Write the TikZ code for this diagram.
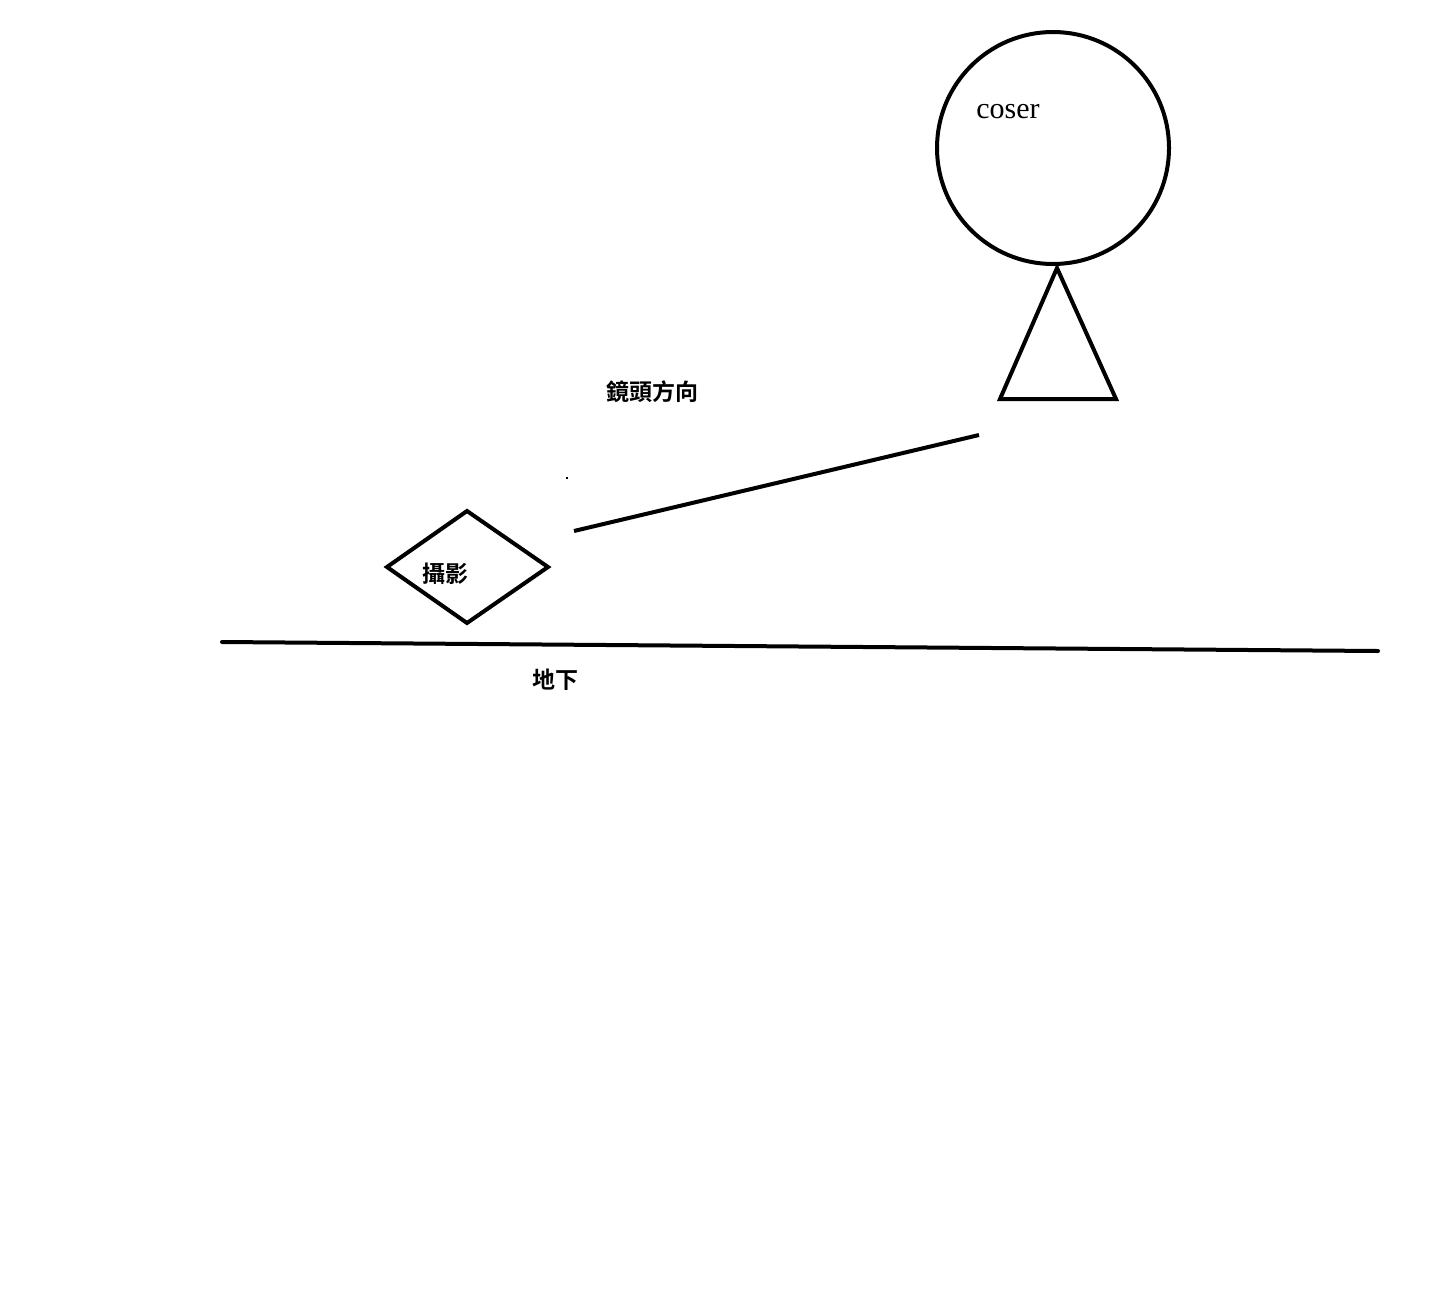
\documentclass[tikz,border=0pt]{standalone}
\usepackage{fontspec}
\setmainfont{Liberation Serif}
\newfontfamily\cjk{Noto Sans CJK TC}[BoldFont={* Bold}]
\begin{document}
\begin{tikzpicture}[x=1pt,y=-1pt,
  stroke/.style={draw=black,line width=4pt,line join=miter},
  cjklabel/.style={font=\cjk\bfseries\fontsize{23}{26}\selectfont,inner sep=0pt},
  latlabel/.style={font=\fontsize{30}{33}\selectfont,inner sep=0pt}]
\useasboundingbox[fill=white] (0,0) rectangle (1440,1288);
% coser: head and body
\node[stroke,circle,minimum size=232pt,inner sep=0pt] (head) at (1053,148) {};
\coordinate (apex) at (1057,268);
\coordinate (bl) at (1000,399);
\coordinate (br) at (1116,399);
\draw[stroke] (apex) -- (bl) -- (br) -- cycle;
\node[latlabel] (coser) at (1008,112) {coser};
% camera
\coordinate (dl) at (387,567);
\coordinate (dt) at (467,511);
\coordinate (dr) at (548,567);
\coordinate (db) at (467,623);
\draw[stroke] (dl) -- (dt) -- (dr) -- (db) -- cycle;
\node[cjklabel] (cam) at (445,574) {攝影};
% lens direction
\coordinate (ls) at (574,531);
\coordinate (le) at (979,435);
\draw[stroke] (ls) -- (le);
\node[cjklabel] (lens) at (652,392) {鏡頭方向};
\fill[black] (566,477) rectangle (568,479);
% ground
\coordinate (g1) at (222,642);
\coordinate (g2) at (1378,651);
\draw[stroke,line cap=round] (g1) -- (g2);
\node[cjklabel] (ground) at (555,680) {地下};
\end{tikzpicture}
\end{document}
